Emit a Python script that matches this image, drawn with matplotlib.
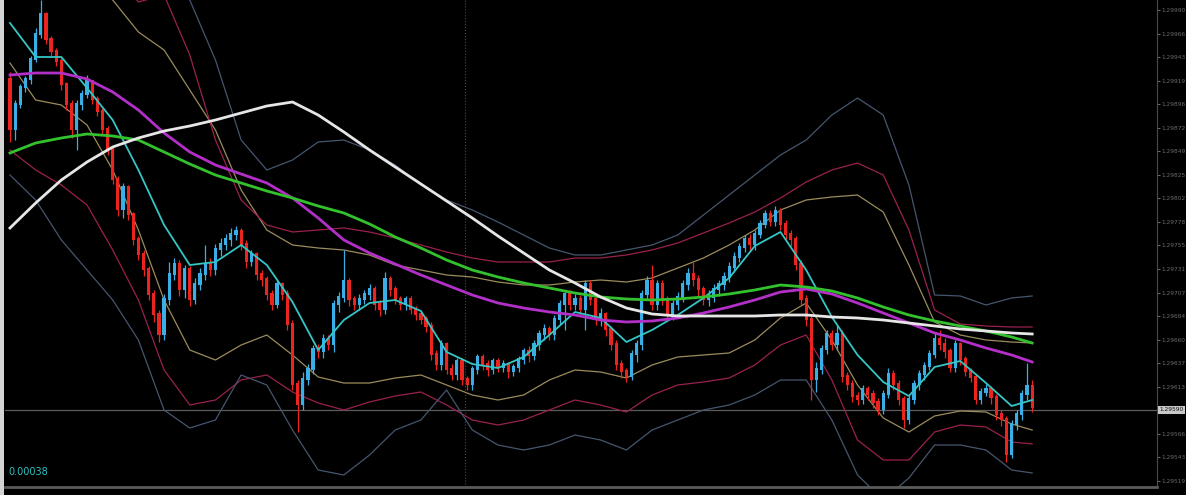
import numpy as np
import matplotlib
matplotlib.use("Agg")
import matplotlib.pyplot as plt
from matplotlib.patches import Rectangle

# prices are kept in points above 1.29000 (1 point = 0.00001)
BASE = 1.29
first_open = 920

close_pts = [870, 895, 912, 920, 940, 965, 985, 960, 948, 938,
             915, 895, 870, 895, 905, 918, 900, 888, 870, 850,
             820, 790, 812, 785, 760, 745, 730, 705, 685, 665,
             700, 725, 735, 710, 730, 700, 715, 725, 735, 730,
             750, 755, 760, 765, 768, 755, 738, 745, 725, 720,
             705, 695, 715, 705, 675, 615, 595, 620, 630, 650,
             648, 660, 655, 695, 702, 718, 700, 695, 700, 705,
             710, 695, 690, 720, 710, 700, 695, 700, 690, 685,
             680, 673, 645, 635, 655, 630, 625, 638, 620, 615,
             630, 642, 635, 630, 638, 632, 635, 628, 632, 640,
             648, 644, 655, 665, 670, 665, 680, 695, 705, 695,
             700, 690, 715, 700, 680, 685, 670, 655, 635, 628,
             623, 645, 655, 705, 718, 695, 715, 700, 685, 695,
             702, 715, 725, 720, 710, 700, 702, 710, 715, 722,
             732, 742, 752, 760, 755, 765, 775, 785, 778, 788,
             775, 765, 760, 735, 700, 680, 620, 630, 650, 665,
             655, 665, 623, 615, 603, 600, 610, 605, 597, 590,
             605, 625, 615, 600, 580, 600, 615, 625, 633, 645,
             660, 655, 648, 632, 655, 640, 628, 622, 600, 607,
             610, 602, 585, 580, 545, 575, 585, 605, 613, 592]

high_pts = [928, 900, 916, 924, 944, 972, 1000, 988, 964, 952,
            942, 918, 900, 900, 910, 925, 920, 904, 892, 874,
            854, 824, 817, 815, 788, 764, 750, 734, 710, 690,
            706, 738, 742, 740, 735, 734, 722, 732, 755, 742,
            756, 762, 766, 772, 774, 772, 760, 750, 748, 730,
            724, 710, 720, 718, 710, 680, 620, 628, 636, 655,
            656, 666, 665, 700, 708, 750, 722, 704, 706, 710,
            716, 714, 700, 728, 724, 714, 704, 704, 704, 694,
            688, 684, 678, 650, 660, 658, 636, 642, 642, 624,
            634, 646, 646, 640, 642, 642, 640, 638, 636, 644,
            652, 654, 660, 670, 676, 674, 685, 700, 710, 710,
            706, 705, 720, 720, 704, 692, 688, 674, 660, 640,
            632, 650, 660, 710, 724, 735, 720, 720, 704, 700,
            708, 720, 732, 738, 725, 714, 710, 716, 720, 728,
            738, 748, 757, 765, 766, 770, 780, 790, 790, 794,
            792, 780, 770, 764, 740, 705, 685, 638, 655, 670,
            670, 675, 670, 628, 620, 608, 615, 614, 610, 602,
            610, 632, 630, 620, 604, 605, 620, 630, 638, 650,
            668, 670, 662, 652, 660, 658, 644, 632, 626, 612,
            616, 614, 606, 590, 584, 580, 590, 610, 637, 620]

low_pts = [858, 860, 892, 908, 916, 938, 962, 956, 944, 934,
           910, 890, 862, 850, 890, 902, 896, 884, 865, 845,
           816, 784, 782, 780, 755, 740, 724, 700, 678, 658,
           660, 695, 720, 704, 702, 694, 696, 710, 720, 724,
           725, 744, 750, 754, 760, 750, 732, 734, 720, 714,
           700, 690, 692, 700, 670, 610, 568, 590, 615, 626,
           642, 642, 650, 648, 688, 698, 694, 690, 690, 696,
           700, 690, 684, 686, 704, 696, 690, 690, 686, 680,
           676, 668, 640, 630, 630, 626, 620, 620, 615, 610,
           610, 626, 630, 624, 626, 628, 628, 622, 624, 628,
           636, 638, 640, 650, 660, 660, 660, 676, 670, 690,
           690, 684, 670, 695, 675, 674, 664, 650, 630, 622,
           618, 620, 638, 650, 700, 690, 690, 695, 680, 680,
           690, 698, 710, 714, 704, 695, 694, 698, 704, 710,
           718, 728, 738, 748, 750, 750, 762, 772, 774, 774,
           770, 760, 754, 730, 695, 674, 600, 608, 626, 646,
           650, 650, 618, 610, 598, 595, 596, 600, 592, 585,
           586, 602, 610, 595, 572, 576, 596, 610, 620, 630,
           642, 650, 642, 628, 628, 635, 624, 618, 596, 596,
           604, 596, 580, 574, 538, 542, 570, 580, 600, 588]

# indicator lines, sampled every 5 bars (last sample on bar 199)
line_bars = list(range(0, 200, 5)) + [199]
ma_white = [772, 797, 820, 838, 853, 862, 869, 874, 880, 887,
            894, 898, 885, 868, 850, 833, 816, 799, 782, 764,
            747, 730, 717, 703, 692, 686, 684, 684, 684, 684,
            685, 685, 683, 682, 680, 677, 674, 671, 669, 667, 666]
ma_green = [847, 857, 862, 866, 864, 860, 848, 836, 825, 817,
            809, 802, 794, 787, 776, 763, 752, 740, 730, 723,
            717, 712, 707, 703, 701, 700, 701, 703, 706, 710,
            715, 713, 709, 702, 693, 685, 679, 674, 669, 663, 657]
ma_purple = [925, 927, 927, 921, 908, 890, 867, 848, 835, 826,
             817, 802, 782, 760, 747, 736, 725, 715, 705, 697,
             692, 688, 685, 680, 678, 679, 682, 687, 693, 700,
             708, 711, 706, 697, 687, 677, 667, 660, 652, 645, 638]
ma_cyan = [977, 943, 943, 912, 880, 830, 775, 735, 738, 755,
           735, 698, 650, 680, 697, 700, 689, 648, 636, 632,
           643, 665, 688, 682, 658, 670, 685, 702, 722, 754,
           768, 730, 683, 645, 618, 604, 633, 639, 617, 594, 600]
tan_up = [1040, 1060, 1060, 1040, 1000, 968, 950, 910, 870, 810,
          770, 755, 752, 750, 745, 735, 730, 725, 723, 718,
          715, 715, 718, 720, 718, 722, 732, 742, 755, 770,
          790, 800, 803, 805, 788, 735, 678, 665, 660, 658, 657]
tan_lo = [937, 900, 895, 875, 830, 770, 700, 650, 640, 655,
          665, 645, 623, 617, 617, 622, 625, 615, 605, 600,
          605, 620, 630, 628, 622, 635, 643, 645, 647, 660,
          682, 697, 660, 615, 582, 568, 584, 589, 588, 576, 570]
crim_up = [1080, 1090, 1080, 1060, 1030, 998, 1005, 945, 860, 800,
           775, 768, 770, 772, 768, 762, 755, 748, 742, 738,
           738, 738, 742, 742, 745, 750, 757, 767, 777, 788,
           802, 818, 830, 837, 825, 770, 690, 676, 674, 673, 673]
crim_lo = [850, 830, 815, 795, 750, 700, 630, 595, 600, 620,
           625, 608, 597, 590, 598, 604, 608, 595, 580, 575,
           580, 590, 600, 595, 588, 605, 615, 618, 622, 635,
           655, 665, 620, 560, 540, 540, 568, 575, 573, 558, 556]
slate_up = [1100, 1120, 1110, 1090, 1060, 1040, 1020, 1000, 940, 860,
            830, 840, 858, 860, 850, 835, 815, 800, 790, 778,
            765, 752, 745, 745, 750, 755, 765, 785, 805, 825,
            845, 860, 885, 902, 885, 815, 705, 704, 695, 702, 704]
slate_lo = [825, 800, 760, 730, 700, 660, 590, 572, 580, 625,
            615, 570, 530, 525, 545, 570, 580, 610, 570, 555,
            550, 555, 565, 560, 550, 570, 580, 590, 595, 605,
            620, 620, 580, 525, 500, 522, 555, 555, 550, 530, 527]

price_ticks = [1.29990, 1.29966, 1.29943, 1.29919, 1.29896, 1.29872, 1.29849,
               1.29825, 1.29802, 1.29778, 1.29755, 1.29731, 1.29707, 1.29684,
               1.29660, 1.29637, 1.29613, 1.29566, 1.29543, 1.29519]
last_price = 1.29590
spread_text = "0.00038"


def px(pts):
    return BASE + np.asarray(pts, dtype=float) / 1e5


close = px(close_pts)
opens = px([first_open] + close_pts[:-1])
high = px(high_pts)
low = px(low_pts)
bars = np.arange(len(close))

fig = plt.figure(figsize=(12, 4.95), dpi=100, facecolor="black")
ax = fig.add_axes([5 / 1200, 8 / 495, 1152 / 1200, 487 / 495])
ax.set_facecolor("black")

up = close >= opens
col = np.where(up, "#3aaee6", "#ec2420")
ax.vlines(bars, low, high, colors=col, lw=0.9, zorder=3)
ax.bar(bars, np.abs(close - opens) + 0.000015, bottom=np.minimum(close, opens),
       width=0.62, color=col, zorder=3)

band_style = [(tan_up, "#9b8c5c"), (tan_lo, "#9b8c5c"),
              (crim_up, "#9a2050"), (crim_lo, "#9a2050"),
              (slate_up, "#46566e"), (slate_lo, "#46566e")]
for vals, c in band_style:
    ax.plot(line_bars, px(vals), color=c, lw=0.9, zorder=2)

ax.plot(line_bars, px(ma_cyan), color="#35c6c6", lw=1.3, zorder=4)
ax.plot(line_bars, px(ma_purple), color="#b22fc8", lw=2.0, zorder=4)
ax.plot(line_bars, px(ma_green), color="#33c22e", lw=2.0, zorder=4)
ax.plot(line_bars, px(ma_white), color="#e6e6e6", lw=2.0, zorder=4)

ax.axhline(last_price, color="#5c5c5c", lw=0.9, zorder=1)
ax.axvline(88.6, color="#4a4a4a", lw=0.8, ls=":", zorder=1)

ax.set_xlim(-0.97, 223.3)
ax.set_ylim(1.29513, 1.30000)
ax.set_xticks([])
ax.yaxis.tick_right()
ax.set_yticks(price_ticks)
ax.set_yticklabels(["%.5f" % v for v in price_ticks])
ax.tick_params(axis="y", colors="#6a6a6a", labelsize=4.2, length=2, pad=1.5)
for s in ["top", "left"]:
    ax.spines[s].set_visible(False)
ax.spines["right"].set_color("#4a4a4a")
ax.spines["bottom"].set_color("#5a5a5a")
ax.spines["bottom"].set_linewidth(2)

ax.annotate("%.5f" % last_price, xy=(1.0, last_price), xycoords=("axes fraction", "data"),
            xytext=(2, 0), textcoords="offset points", va="center", fontsize=4.2,
            color="#111111", bbox=dict(boxstyle="square,pad=0.25", fc="#c8c8c8", ec="none"))

fig.text(8 / 1200, 1 - 472 / 495, spread_text, color="#2ec4c4", fontsize=7, va="center")

fig.add_artist(Rectangle((0, 0), 4 / 1200, 1, transform=fig.transFigure,
                         fc="#d4d4d4", ec="none"))
fig.add_artist(Rectangle((1186 / 1200, 0), 14 / 1200, 1, transform=fig.transFigure,
                         fc="white", ec="none"))

fig.savefig("out.png", dpi=100, facecolor="black")
